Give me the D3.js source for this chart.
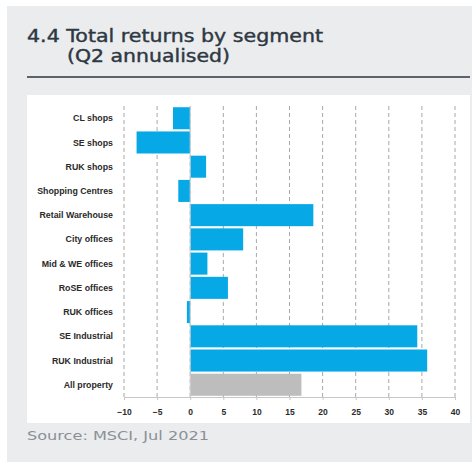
<!DOCTYPE html>
<html>
<head>
<meta charset="utf-8">
<script src="https://cdn.jsdelivr.net/npm/d3@7"></script>
<style>
  html, body { margin: 0; padding: 0; background: #ffffff; }
  svg { display: block; }
</style>
</head>
<body>
<svg id="chart" width="472" height="462"></svg>
<script>
// Segment returns, Q2 annualised (%)
const categories = [
  "CL shops", "SE shops", "RUK shops", "Shopping Centres", "Retail Warehouse",
  "City offices", "Mid & WE offices", "RoSE offices", "RUK offices",
  "SE Industrial", "RUK Industrial", "All property"
];
const returns = [-2.6, -8.1, 2.4, -1.8, 18.6, 8.0, 2.6, 5.7, -0.5, 34.3, 35.8, 16.8];
const tickValues = [-10, -5, 0, 5, 10, 15, 20, 25, 30, 35, 40];
const highlight = "All property";

const svg = d3.select("#chart");

// Card background
svg.append("rect").attr("x", 7).attr("y", 6).attr("width", 465).attr("height", 456)
  .attr("fill", "#ebecee");

// Title (two lines, slightly emboldened with a hairline stroke)
const titleStyle = sel => sel
  .attr("font-family", "'DejaVu Sans', sans-serif")
  .attr("font-size", 17).attr("fill", "#2e3842")
  .attr("stroke", "#2e3842").attr("stroke-width", 0.4)
  .attr("lengthAdjust", "spacingAndGlyphs");
svg.append("text").call(titleStyle)
  .attr("x", 27).attr("y", 42).attr("textLength", 296)
  .text("4.4 Total returns by segment");
svg.append("text").call(titleStyle)
  .attr("x", 67).attr("y", 62).attr("textLength", 163)
  .text("(Q2 annualised)");

// Rule under title
svg.append("rect").attr("x", 27).attr("y", 76).attr("width", 443).attr("height", 2)
  .attr("fill", "#59646e");

// White chart area
svg.append("rect").attr("x", 27).attr("y", 95).attr("width", 443).attr("height", 328)
  .attr("fill", "#ffffff");

// Source note
svg.append("text").attr("x", 27).attr("y", 440)
  .attr("font-family", "'DejaVu Sans', sans-serif")
  .attr("font-size", 12.5).attr("fill", "#8a9097")
  .attr("textLength", 182).attr("lengthAdjust", "spacingAndGlyphs")
  .text("Source: MSCI, Jul 2021");

// Scales
const x = d3.scaleLinear().domain([-10, 40]).range([124, 455]);
const y = d3.scaleBand().domain(categories).range([106, 397]).paddingInner(0.09).paddingOuter(0.05);

const plot = svg.append("g");

// Dashed vertical gridlines
plot.selectAll("line.grid").data(tickValues).join("line")
  .attr("class", "grid")
  .attr("x1", d => x(d)).attr("x2", d => x(d))
  .attr("y1", 106).attr("y2", 397)
  .attr("stroke", "#a8a8a8").attr("stroke-width", 1)
  .attr("stroke-dasharray", "4,3");

// Bars
plot.selectAll("rect.bar").data(categories).join("rect")
  .attr("class", "bar")
  .attr("x", (d, i) => x(Math.min(0, returns[i])))
  .attr("y", d => y(d))
  .attr("width", (d, i) => Math.abs(x(returns[i]) - x(0)))
  .attr("height", y.bandwidth())
  .attr("fill", d => d === highlight ? "#bdbdbd" : "#06a9e6");

// Category axis line at zero
plot.append("line").attr("x1", x(0)).attr("x2", x(0)).attr("y1", 106).attr("y2", 397)
  .attr("stroke", "#d0d0d0").attr("stroke-width", 1);

// Bottom axis
const xAxis = d3.axisBottom(x).tickValues(tickValues).tickSize(3).tickPadding(9);
const gx = svg.append("g").attr("transform", "translate(0,397)").call(xAxis);
gx.select(".domain").attr("stroke", "#c8c8c8");
gx.selectAll(".tick line").attr("stroke", "#c8c8c8");
gx.selectAll(".tick text")
  .attr("font-family", "'Liberation Sans', Arial, sans-serif")
  .attr("font-size", 8.5).attr("font-weight", "bold").attr("fill", "#2a2a2a");

// Category labels
svg.append("g").selectAll("text").data(categories).join("text")
  .attr("x", 113)
  .attr("y", d => y(d) + y.bandwidth() / 2)
  .attr("dy", "0.35em")
  .attr("text-anchor", "end")
  .attr("font-family", "'Liberation Sans', Arial, sans-serif")
  .attr("font-size", 8.8).attr("font-weight", "bold").attr("fill", "#2a2a2a")
  .text(d => d);
</script>
</body>
</html>
